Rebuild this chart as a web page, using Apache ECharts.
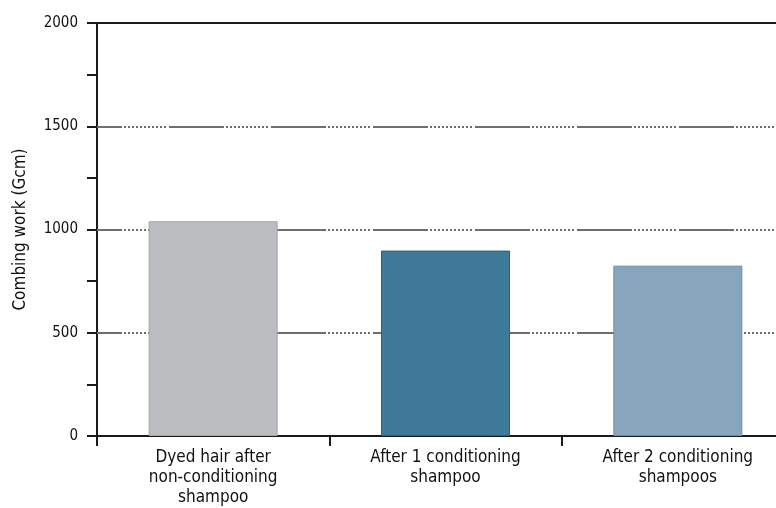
<!DOCTYPE html>
<html>
<head>
<meta charset="utf-8">
<script src="https://cdn.jsdelivr.net/npm/echarts@6/dist/echarts.min.js"></script>
<style>html,body{margin:0;padding:0;background:#fff}#c{width:776px;height:508px}</style>
</head>
<body>
<div id="c"></div>
<script>
var categories = ["Dyed hair after\nnon-conditioning\nshampoo", "After 1 conditioning\nshampoo", "After 2 conditioning\nshampoos"];
var values = [1040, 898, 825];
var barColors = ["#bcbdc0", "#3f7b99", "#87a5bd"];
var barBorders = ["#a5a6a9", "#2d5f78", "#6f8ea8"];
var gridValues = [500, 1000, 1500];
var yTickLabels = [0, 500, 1000, 1500, 2000];

var FONT = "'Liberation Sans Narrow', 'DejaVu Sans Condensed', 'Liberation Sans', sans-serif";
var dash = [55, 2];
for (var i = 0; i < 11; i++) { dash.push(2, 2); }
dash[dash.length - 1] = 3;

var chart = echarts.init(document.getElementById('c'), null, {renderer: 'canvas'});
chart.setOption({
  animation: false,
  grid: {left: 97, top: 23, right: -18, bottom: 72, containLabel: false, outerBoundsMode: 'none'},
  xAxis: [{
    type: 'category',
    data: categories,
    boundaryGap: true,
    axisLine: {lineStyle: {color: '#1a1a1a', width: 2}},
    axisTick: {show: true, length: 10, alignWithLabel: false, lineStyle: {color: '#1a1a1a', width: 2}},
    axisLabel: {color: '#111', fontFamily: FONT, fontSize: 17, lineHeight: 20, margin: 12, interval: 0},
    splitLine: {show: false}
  }, {
    type: 'category',
    position: 'top',
    data: categories,
    axisLine: {show: true, lineStyle: {color: '#1a1a1a', width: 2}},
    axisTick: {show: false},
    axisLabel: {show: false}
  }],
  yAxis: {
    type: 'value',
    min: 0, max: 2000, interval: 250,
    name: 'Combing work (Gcm)',
    nameLocation: 'middle',
    nameGap: 68,
    nameRotate: 90,
    nameTextStyle: {color: '#111', fontFamily: FONT, fontSize: 17},
    axisLine: {show: true, lineStyle: {color: '#1a1a1a', width: 2}},
    axisTick: {show: true, length: 10, lineStyle: {color: '#1a1a1a', width: 2}},
    axisLabel: {
      color: '#111', fontFamily: FONT, fontSize: 15, margin: 19,
      formatter: function (v) { return yTickLabels.indexOf(v) >= 0 ? String(v) : ''; }
    },
    splitLine: {show: false}
  },
  series: [{
    type: 'bar',
    barWidth: 129,
    data: values.map(function (v, i) {
      return {value: v, itemStyle: {color: barColors[i], borderColor: barBorders[i], borderWidth: 1}};
    }),
    z: 3,
    markLine: {
      silent: true,
      symbol: 'none',
      label: {show: false},
      z: 1,
      lineStyle: {color: '#6e6e6e', width: 2, type: dash, dashOffset: 30},
      data: gridValues.map(function (v) { return {yAxis: v}; })
    }
  }]
});
</script>
</body>
</html>
